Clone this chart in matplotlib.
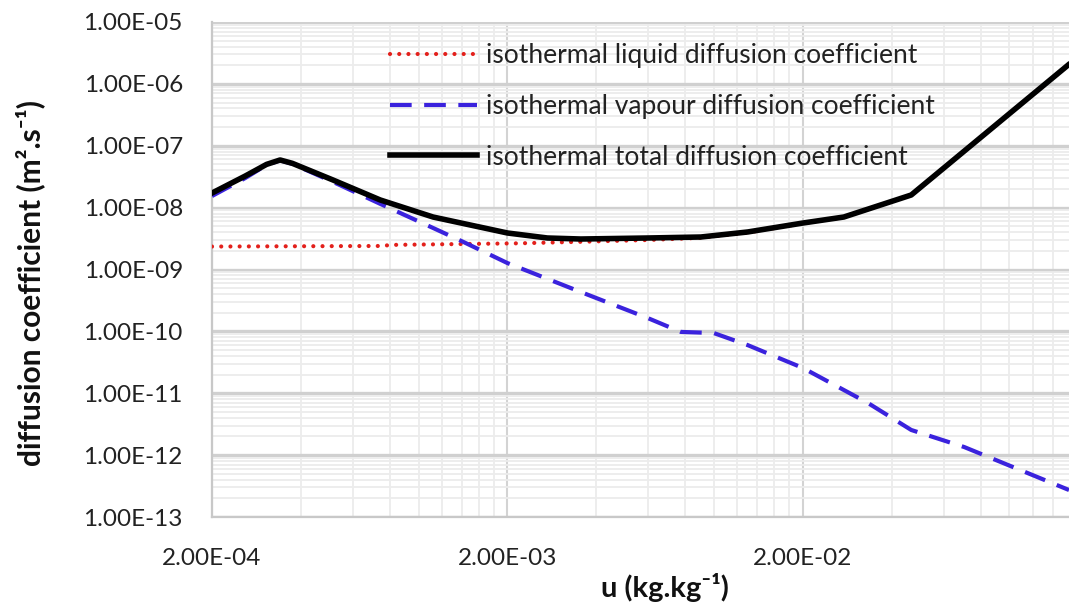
import matplotlib
matplotlib.use("Agg")
import matplotlib.pyplot as plt
from matplotlib.ticker import FixedLocator, FuncFormatter, NullFormatter
import numpy as np

plt.rcParams['font.family'] = ['Lato', 'DejaVu Sans']

# ---- data ----
u_total = [2.0e-4, 2.59e-4, 3.06e-4, 3.40e-4, 3.74e-4, 5.14e-4, 7.42e-4, 1.12e-3,
           2.0e-3, 2.73e-3, 3.54e-3, 5.97e-3, 9.02e-3, 1.30e-2, 2.0e-2, 2.75e-2,
           4.65e-2, 0.158]
D_total = [1.72e-8, 3.24e-8, 5.0e-8, 5.89e-8, 5.2e-8, 2.79e-8, 1.33e-8, 7.05e-9,
           3.89e-9, 3.23e-9, 3.11e-9, 3.23e-9, 3.35e-9, 4.04e-9, 5.64e-9, 7.05e-9,
           1.60e-8, 2.02e-6]

u_vap = [2.0e-4, 2.59e-4, 3.06e-4, 3.40e-4, 3.74e-4, 5.14e-4, 7.42e-4, 1.12e-3,
         1.42e-3, 2.0e-3, 3.54e-3, 5.97e-3, 7.72e-3, 9.98e-3, 1.30e-2, 2.0e-2,
         3.32e-2, 4.65e-2, 7.03e-2, 0.159]
D_vap = [1.54e-8, 3.0e-8, 4.9e-8, 5.8e-8, 5.1e-8, 2.6e-8, 1.15e-8, 4.69e-9,
         2.78e-9, 1.27e-9, 4.33e-10, 1.64e-10, 9.8e-11, 9.4e-11, 6.0e-11, 2.56e-11,
         6.95e-12, 2.55e-12, 1.35e-12, 2.73e-13]

u_liq = [2.0e-4, 7.4e-4, 8.2e-4, 2.2e-3, 3.5e-3, 6.0e-3, 9.02e-3, 1.30e-2,
         2.0e-2, 2.75e-2, 4.65e-2, 0.158]
D_liq = [2.35e-9, 2.4e-9, 2.5e-9, 2.65e-9, 2.8e-9, 3.0e-9, 3.25e-9, 3.95e-9,
         5.6e-9, 7.0e-9, 1.6e-8, 2.0e-6]

labels = ["isothermal liquid diffusion coefficient",
          "isothermal vapour diffusion coefficient",
          "isothermal total diffusion coefficient"]

x_major = [2e-4, 2e-3, 2e-2]
y_major = [1e-5, 1e-6, 1e-7, 1e-8, 1e-9, 1e-10, 1e-11, 1e-12, 1e-13]

# ---- figure ----
fig = plt.figure(figsize=(10.69, 6.08), dpi=100)
ax = fig.add_axes([212/1069, 1-517/608, 1-212/1069, (517-22)/608])
ax.set_xscale('log')
ax.set_yscale('log')
ax.set_xlim(2e-4, 0.159)
ax.set_ylim(1e-13, 1e-5)

# grid
ax.xaxis.set_major_locator(FixedLocator(x_major))
x_minor = [b*k for b in x_major for k in range(2, 10)]
ax.xaxis.set_minor_locator(FixedLocator(x_minor))
ax.xaxis.set_minor_formatter(NullFormatter())
ax.yaxis.set_major_locator(FixedLocator(y_major))
y_minor = [b*k for b in y_major[1:] for k in range(2, 10)]
ax.yaxis.set_minor_locator(FixedLocator(y_minor))
ax.yaxis.set_minor_formatter(NullFormatter())
fmt = FuncFormatter(lambda v, p: f"{v:.2E}")
ax.xaxis.set_major_formatter(fmt)
ax.yaxis.set_major_formatter(fmt)

ax.grid(which='minor', color='#ececec', linewidth=1.3, zorder=0)
ax.grid(which='major', axis='y', color='#d0d0d0', linewidth=2.4, zorder=0)
ax.grid(which='major', axis='x', color='#d3d3d3', linewidth=1.5, zorder=0)
ax.set_axisbelow(True)

for s in ['top', 'right']:
    ax.spines[s].set_visible(False)
for s in ['left', 'bottom']:
    ax.spines[s].set_color('#c8c8c8')
    ax.spines[s].set_linewidth(1.6)

ax.tick_params(which='both', length=0, labelsize=17.5, colors='#222222')
ax.tick_params(axis='y', pad=21)
ax.tick_params(axis='x', pad=22)

# lines
ax.plot(u_liq, D_liq, color='#e3201b', linewidth=3.0, linestyle=(0, (0.01, 2.2)),
        dash_capstyle='round', label=labels[0], zorder=3)
ax.plot(u_vap, D_vap, color='#3a22dd', linewidth=3.0, linestyle=(0, (5.2, 3.0)),
        label=labels[1], zorder=4)
ax.plot(u_total, D_total, color='black', linewidth=4.0, label=labels[2],
        solid_joinstyle='round', zorder=5)

leg = ax.legend(loc='upper left', bbox_to_anchor=((390-212)/857, 1-(43-22)/495),
                frameon=False, fontsize=19, handlelength=3.3, handletextpad=0.35,
                labelspacing=0.98, borderaxespad=0.0, borderpad=0.0)
for t in leg.get_texts():
    t.set_color('#222222')

fig.text(30/1069, 1-283/608, "diffusion coefficient (m².s⁻¹)", rotation=90,
         ha='center', va='center', fontsize=21.5, fontweight='bold', color='#111111')
fig.text(665/1069, 1-588/608, "u (kg.kg⁻¹)", ha='center', va='center',
         fontsize=21, fontweight='bold', color='#111111')

fig.savefig("out.png", dpi=100)
